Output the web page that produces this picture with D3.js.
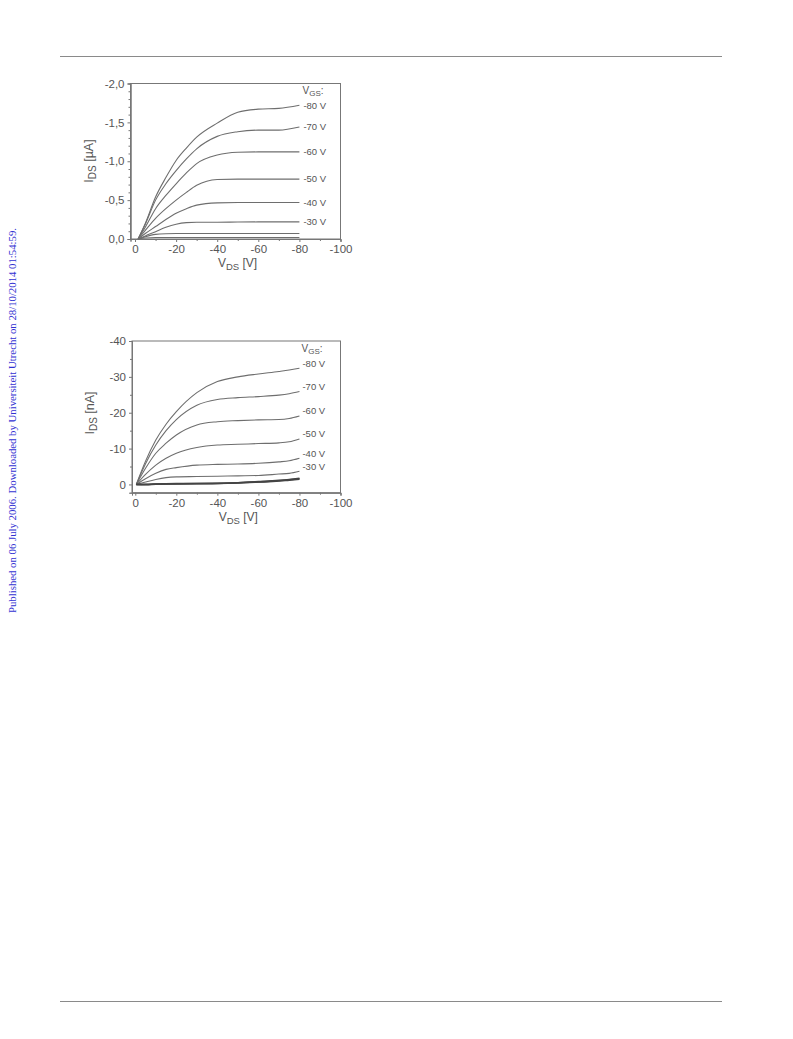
<!DOCTYPE html>
<html><head><meta charset="utf-8">
<script src="https://cdn.jsdelivr.net/npm/d3@7"></script>
<style>
html,body{margin:0;padding:0;background:#fff;}
svg{display:block;}
</style></head>
<body>
<script>
// ---------- DATA ----------
const vgsLabels = ["-80 V", "-70 V", "-60 V", "-50 V", "-40 V", "-30 V"];

// Top chart (I_DS in µA)
const vdsTop = [-1.5, -5, -10, -15, -20, -25, -30, -40, -50, -60, -70, -80];
const topVgs80 = [0, -0.20, -0.54, -0.79, -1.01, -1.17, -1.31, -1.49, -1.63, -1.67, -1.68, -1.72];
const topVgs70 = [0, -0.19, -0.50, -0.71, -0.88, -1.03, -1.16, -1.32, -1.38, -1.40, -1.40, -1.44];
const topVgs60 = [0, -0.15, -0.39, -0.56, -0.71, -0.85, -0.97, -1.08, -1.115, -1.12, -1.12, -1.12];
const topVgs50 = [0, -0.11, -0.265, -0.39, -0.50, -0.60, -0.69, -0.765, -0.77, -0.77, -0.77, -0.77];
const topVgs40 = [0, -0.07, -0.16, -0.25, -0.33, -0.39, -0.436, -0.465, -0.47, -0.47, -0.47, -0.47];
const topVgs30 = [0, -0.04, -0.094, -0.15, -0.19, -0.21, -0.215, -0.215, -0.218, -0.22, -0.22, -0.22];
const topVgs20 = [0, -0.03, -0.06, -0.068, -0.07, -0.07, -0.07, -0.07, -0.07, -0.07, -0.07, -0.07];
const topVgs10 = [0, -0.012, -0.02, -0.02, -0.02, -0.02, -0.02, -0.02, -0.02, -0.02, -0.02, -0.02];

// Bottom chart (I_DS in nA)
const vdsBottom = [-0.5, -5, -10, -15, -20, -30, -40, -50, -60, -70, -75, -80];
const botVgs80 = [0, -6.5, -12.4, -16.8, -20.3, -25.6, -28.7, -30.0, -30.8, -31.5, -31.9, -32.4];
const botVgs70 = [0, -5.8, -11.0, -15.0, -18.1, -22.1, -23.7, -24.2, -24.5, -24.9, -25.3, -25.9];
const botVgs60 = [0, -4.5, -8.7, -11.5, -13.8, -16.6, -17.5, -17.8, -18.0, -18.1, -18.4, -19.1];
const botVgs50 = [0, -2.8, -5.4, -7.3, -8.7, -10.3, -11.0, -11.2, -11.4, -11.6, -11.9, -12.7];
const botVgs40 = [0, -1.6, -3.1, -4.2, -4.7, -5.4, -5.6, -5.7, -5.9, -6.3, -6.6, -7.3];
const botVgs30 = [0, -0.7, -1.4, -1.9, -2.1, -2.2, -2.3, -2.4, -2.5, -2.9, -3.1, -3.7];
const botVgs20 = [0, -0.05, -0.15, -0.2, -0.25, -0.3, -0.35, -0.5, -0.8, -1.15, -1.4, -1.75];
const botVgs10 = [0, 0.0, -0.1, -0.15, -0.2, -0.25, -0.3, -0.45, -0.7, -1.05, -1.3, -1.6];
const botVgs0  = [0, 0.05, -0.05, -0.1, -0.15, -0.2, -0.25, -0.4, -0.65, -0.95, -1.2, -1.45];

const xTicks = [0, -20, -40, -60, -80, -100];
const yTicksTop = [0, -0.5, -1.0, -1.5, -2.0];
const yTicksBottom = [0, -10, -20, -30, -40];
const footerText = "Published on 06 July 2006. Downloaded by Universiteit Utrecht on 28/10/2014 01:54:59.";

// ---------- DRAW ----------
const W = 793, H = 1039;
const svg = d3.select("body").append("svg").attr("width", W).attr("height", H);
const FONT = "'Liberation Sans', Arial, sans-serif";
const TXT = "#555";
const LINE = "#6e6e6e";

// page rules
svg.append("line").attr("x1", 60).attr("x2", 722).attr("y1", 56.5).attr("y2", 56.5)
  .attr("stroke", "#8a8a8a").attr("stroke-width", 1);
svg.append("line").attr("x1", 60).attr("x2", 722).attr("y1", 1001.5).attr("y2", 1001.5)
  .attr("stroke", "#8a8a8a").attr("stroke-width", 1);

// side text
svg.append("text")
  .attr("transform", "translate(15.5,613) rotate(-90)")
  .attr("font-family", "'Liberation Serif', 'Times New Roman', serif")
  .attr("font-size", 10.2).attr("fill", "#3232d2")
  .attr("textLength", 385).attr("lengthAdjust", "spacingAndGlyphs")
  .text(footerText);

function drawChart(cfg) {
  const x = d3.scaleLinear().domain(cfg.xDomain).range([cfg.left, cfg.right]);
  const y = d3.scaleLinear().domain(cfg.yDomain).range([cfg.bottom, cfg.top]);
  const g = svg.append("g");

  // frame
  g.append("rect").attr("x", cfg.left).attr("y", cfg.top)
    .attr("width", cfg.right - cfg.left).attr("height", cfg.bottom - cfg.top)
    .attr("fill", "none").attr("stroke", "#777").attr("stroke-width", 1);

  // x axis
  const xAxis = d3.axisBottom(x).tickValues(cfg.xTicks).tickSize(3).tickPadding(3)
    .tickFormat(d => d3.format("d")(d).replace("−", "-"));
  g.append("g").attr("transform", `translate(0,${cfg.bottom})`).call(xAxis);
  const xMinor = d3.axisBottom(x).tickValues(d3.range(-10, -100, -20)).tickSize(2).tickFormat("");
  g.append("g").attr("transform", `translate(0,${cfg.bottom})`).call(xMinor);

  // y axis
  const yAxis = d3.axisLeft(y).tickValues(cfg.yTicks).tickSize(3).tickPadding(3)
    .tickFormat(cfg.yFormat);
  g.append("g").attr("transform", `translate(${cfg.left},0)`).call(yAxis);
  const yMinor = d3.axisLeft(y).tickValues(cfg.yMinor).tickSize(2).tickFormat("");
  g.append("g").attr("transform", `translate(${cfg.left},0)`).call(yMinor);

  g.selectAll(".domain").attr("stroke", "#777");
  g.selectAll(".tick line").attr("stroke", "#777");
  g.selectAll(".tick text").attr("fill", TXT).attr("font-family", FONT).attr("font-size", 11.5);

  // curves
  const line = d3.line().x(d => x(d[0])).y(d => y(d[1])).curve(cfg.curve);
  cfg.series.forEach(s => {
    const pts = cfg.vds.map((v, i) => [v, s.values[i]]);
    g.append("path").attr("d", line(pts)).attr("fill", "none")
      .attr("stroke", s.color || LINE).attr("stroke-width", s.width || 1.1)
      .attr("stroke-linejoin", "round");
    if (s.label) {
      const last = pts[pts.length - 1];
      g.append("text").attr("x", x(last[0]) + cfg.labelDx).attr("y", y(last[1]) + cfg.labelDy)
        .attr("dy", "0.35em").attr("font-family", FONT).attr("font-size", 9.5)
        .attr("fill", TXT).text(s.label);
    }
  });

  // VGS legend title
  const t = g.append("text").attr("x", cfg.vgsX).attr("y", cfg.vgsY).attr("dy", "0.35em")
    .attr("font-family", FONT).attr("font-size", 10).attr("fill", TXT);
  t.append("tspan").text("V");
  t.append("tspan").attr("font-size", 8).attr("dy", "2").text("GS");
  t.append("tspan").attr("dy", "-2").text(":");

  // x title
  const cx = (cfg.left + cfg.right) / 2;
  const xt = g.append("text").attr("x", cx + 2).attr("y", cfg.bottom + 28)
    .attr("text-anchor", "middle").attr("font-family", FONT).attr("font-size", 12).attr("fill", TXT);
  xt.append("tspan").text("V");
  xt.append("tspan").attr("font-size", 9.5).attr("dy", 3).text("DS");
  xt.append("tspan").attr("dy", -3).text(" [V]");

  // y title
  const yt = g.append("text").attr("transform", `translate(${cfg.left - 38},${cfg.yTitleY}) rotate(-90)`)
    .attr("text-anchor", "middle").attr("font-family", FONT).attr("font-size", 12.5).attr("fill", TXT);
  yt.append("tspan").text("I");
  yt.append("tspan").attr("font-size", 10).attr("dy", 3).text("DS");
  yt.append("tspan").attr("dy", -3).text(" [" + cfg.unit + "]");
}

const commaFmt = d => d3.format(".1f")(d).replace("−", "-").replace(".", ",");

drawChart({
  left: 130.5, right: 340.5, top: 83.5, bottom: 239,
  xDomain: [2.2, -100], yDomain: [0, -2.0],
  xTicks: xTicks, yTicks: yTicksTop, yFormat: commaFmt,
  yMinor: d3.range(-0.1, -2.0, -0.1).filter(v => Math.abs(Math.round(v * 10) % 5) !== 0),
  vds: vdsTop, curve: d3.curveMonotoneX,
  series: [
    { values: topVgs80, label: vgsLabels[0] },
    { values: topVgs70, label: vgsLabels[1] },
    { values: topVgs60, label: vgsLabels[2] },
    { values: topVgs50, label: vgsLabels[3] },
    { values: topVgs40, label: vgsLabels[4] },
    { values: topVgs30, label: vgsLabels[5] },
    { values: topVgs20 },
    { values: topVgs10 }
  ],
  labelDx: 4, labelDy: 0,
  vgsX: 302.5, vgsY: 90,
  unit: "µA", yTitleY: 161
});

drawChart({
  left: 132, right: 340.5, top: 341, bottom: 492.7,
  xDomain: [1.6, -100], yDomain: [2.3, -40],
  xTicks: xTicks, yTicks: yTicksBottom, yFormat: d => d3.format("d")(d).replace("−", "-"),
  yMinor: [-5, -15, -25, -35],
  vds: vdsBottom, curve: d3.curveMonotoneX,
  series: [
    { values: botVgs80, label: vgsLabels[0] },
    { values: botVgs70, label: vgsLabels[1] },
    { values: botVgs60, label: vgsLabels[2] },
    { values: botVgs50, label: vgsLabels[3] },
    { values: botVgs40, label: vgsLabels[4] },
    { values: botVgs30, label: vgsLabels[5] },
    { values: botVgs20, width: 1.5, color: "#444" },
    { values: botVgs10, width: 1.5, color: "#444" },
    { values: botVgs0, width: 1.5, color: "#444" }
  ],
  labelDx: 3, labelDy: -5,
  vgsX: 301.5, vgsY: 348,
  unit: "nA", yTitleY: 413
});
</script>
</body></html>
